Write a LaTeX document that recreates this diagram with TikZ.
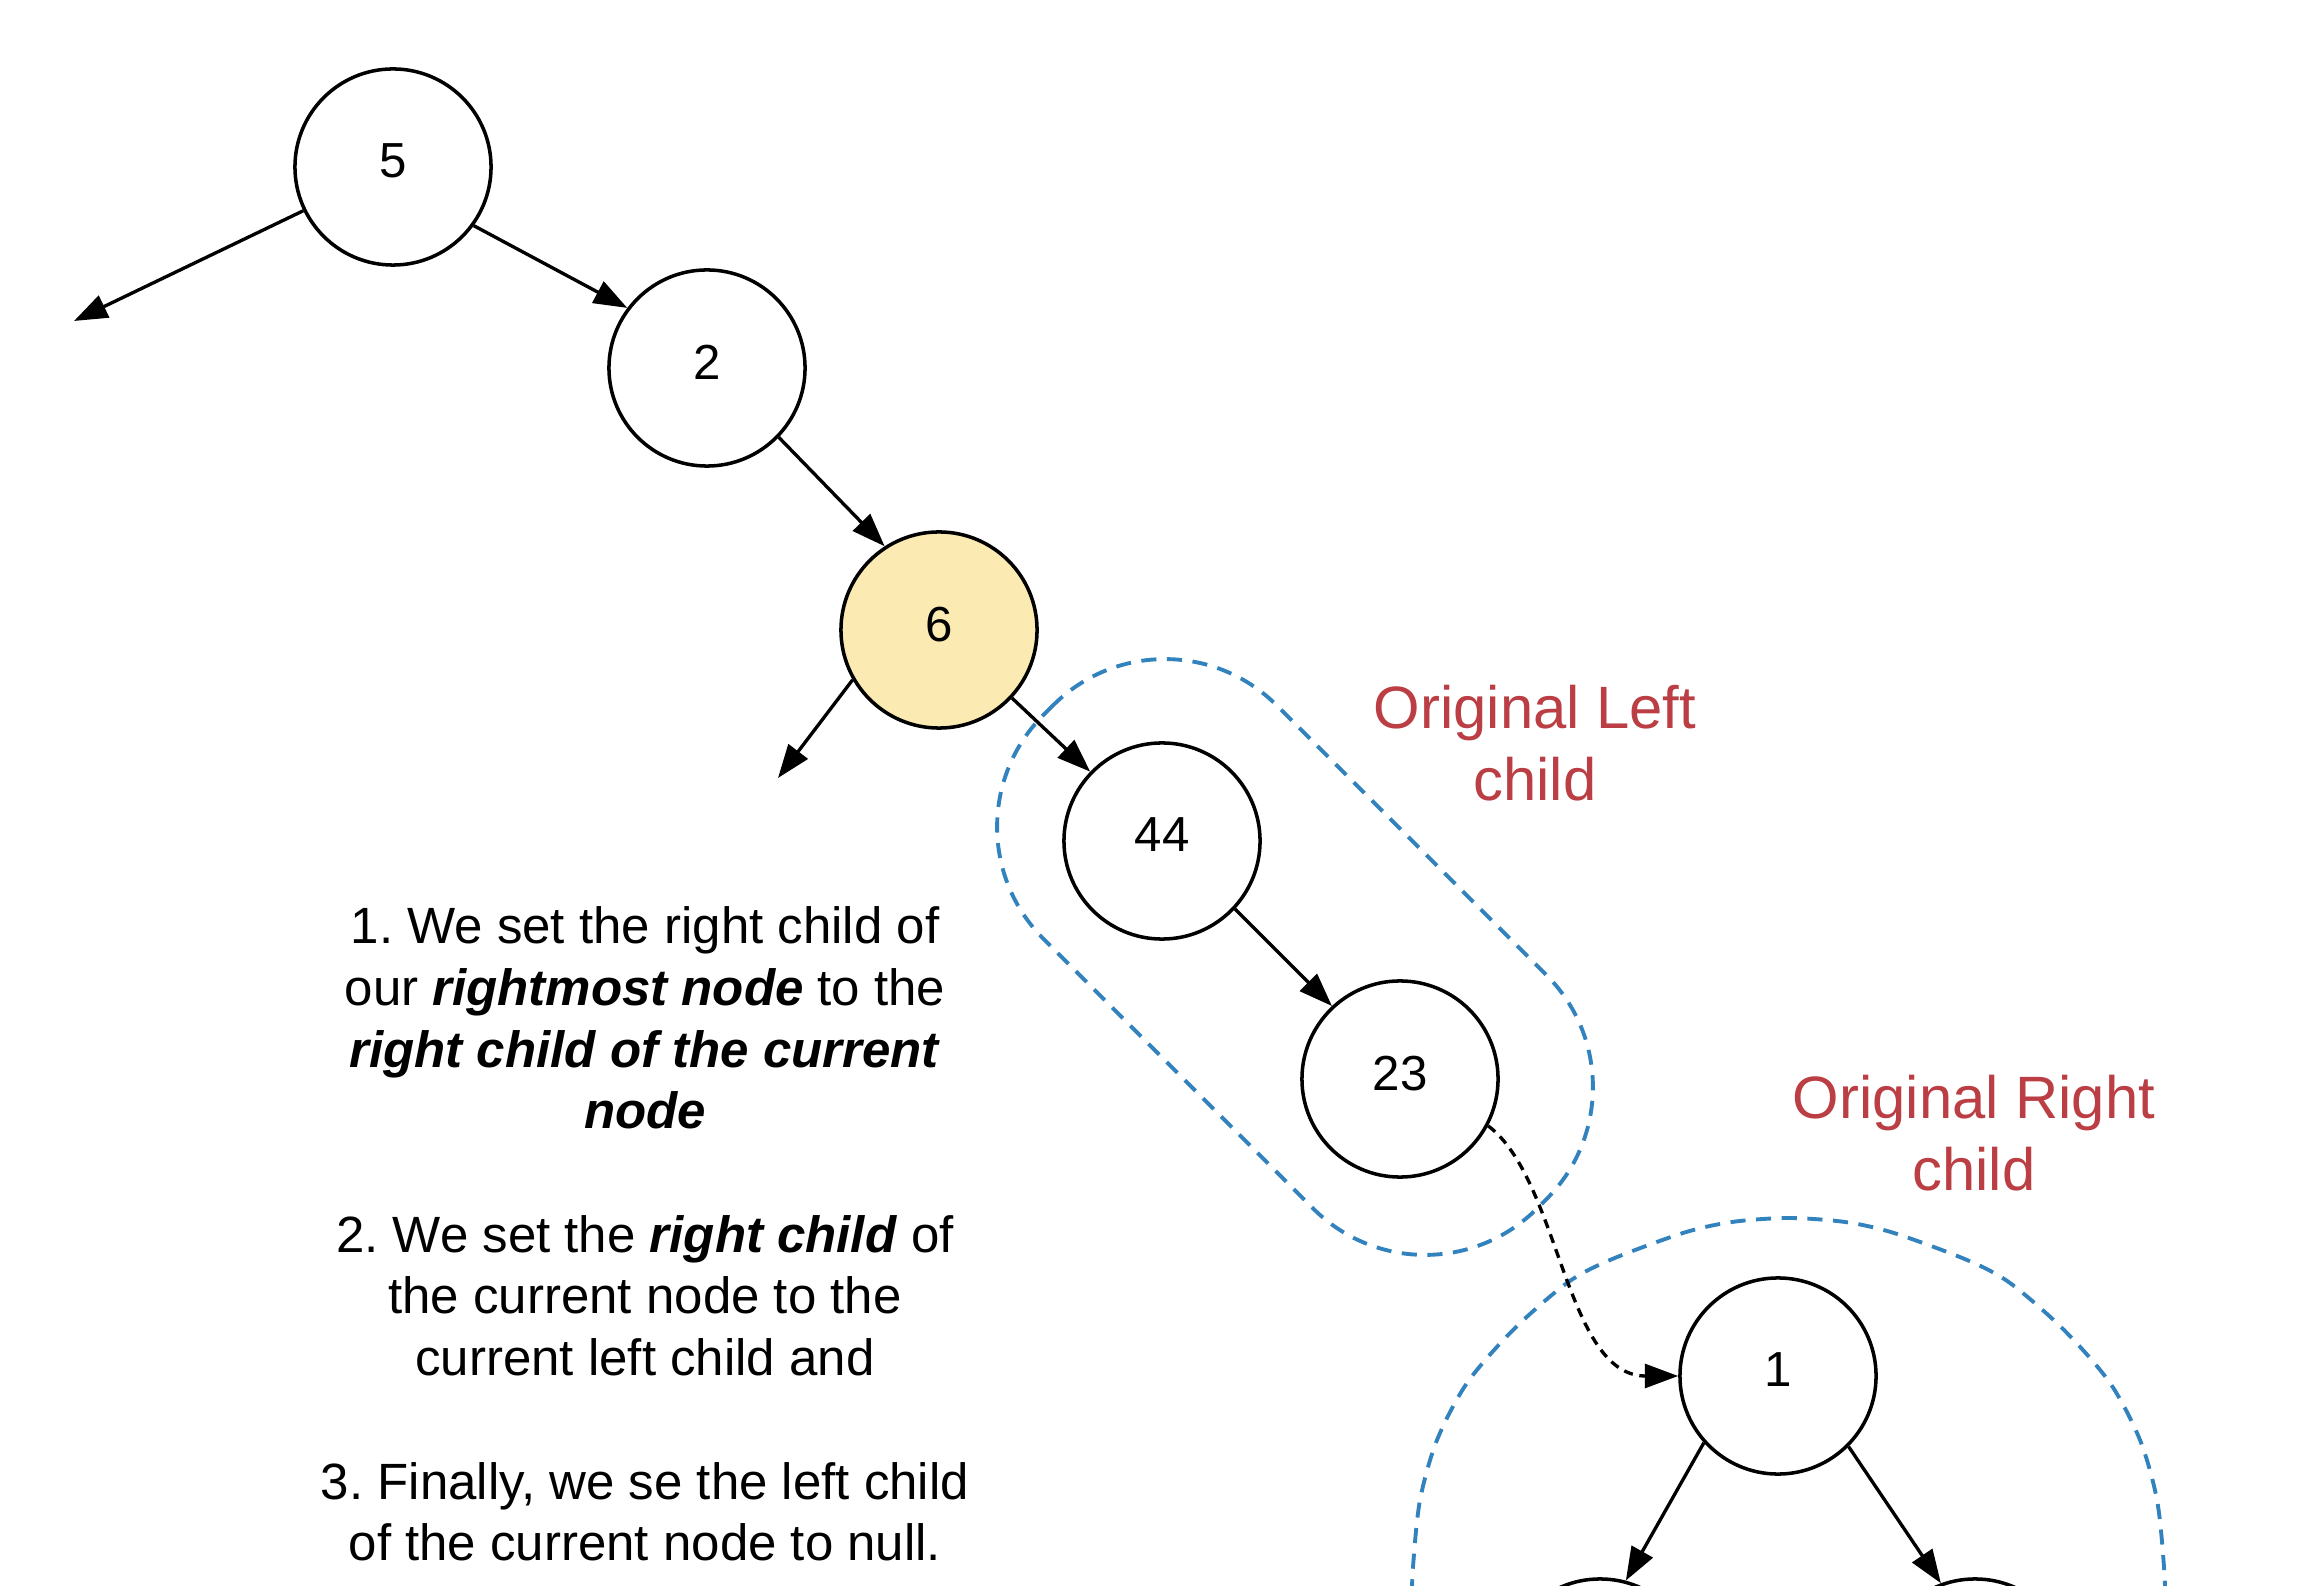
\documentclass[tikz,border=0pt]{standalone}
\usepackage{fontspec}
\setmainfont{Liberation Sans}
\usetikzlibrary{arrows.meta}
\frenchspacing
\definecolor{redlab}{RGB}{187,62,68}
\definecolor{blueline}{RGB}{50,130,190}
\definecolor{yellowfill}{RGB}{251,234,177}
\tikzset{
  treenode/.style={circle, draw=black, line width=1pt, minimum size=1.96cm, inner sep=0pt, fill=white,
    text depth=3.4pt, font=\fontsize{14pt}{16.8pt}\selectfont},
  arr/.style={-{Triangle[length=9.5pt,width=6.8pt]}, line width=0.95pt, black},
  dasharr/.style={-{Triangle[length=9.5pt,width=6.8pt]}, line width=0.95pt, black, dash pattern=on 2.6pt off 1.9pt},
  groupline/.style={draw=blueline, line width=1.1pt, dash pattern=on 4.3pt off 3pt},
  redlabel/.style={text=redlab, align=center, font=\fontsize{17pt}{20.65pt}\selectfont},
  bodytext/.style={align=center, font=\fontsize{14.5pt}{17.55pt}\selectfont}
}
\newcommand{\bit}[1]{\textbf{\textit{#1}}}
\begin{document}
\begin{tikzpicture}[x=0.01cm, y=-0.01cm]
\clip (0,0) rectangle (2324,1586);
\fill[white] (0,0) rectangle (2324,1586);

% dashed group outlines
\draw[groupline, rounded corners=45pt, rotate around={-45:(1295,957)}]
  (946,792) rectangle (1644,1122);
\draw[groupline] plot[smooth] coordinates {
  (1411,1620) (1413,1567) (1420,1500) (1437,1440) (1467,1383) (1513,1330)
  (1567,1283) (1610,1260) (1683,1233) (1732,1222) (1788,1218)
  (1845,1222) (1894,1233) (1967,1260) (2010,1283) (2064,1330)
  (2110,1383) (2140,1440) (2157,1500) (2164,1567) (2166,1620)};

% nodes
\node[treenode] (n5) at (393,167) {5};
\node[treenode] (n2) at (707,368) {2};
\node[treenode, fill=yellowfill] (n6) at (939,630) {6};
\node[treenode] (n44) at (1162,841) {44};
\node[treenode] (n23) at (1400,1079) {23};
\node[treenode] (n1) at (1778,1376) {1};
\node[treenode] (c1l) at (1600,1677) {};
\node[treenode] (c1r) at (1975,1677) {};

\coordinate (e5) at (74,321);
\coordinate (e6) at (778,778);

% connectors
\draw[arr] (n5.206.8) -- (e5);
\draw[arr] (n5.-36.3) -- (n2.143.1);
\draw[arr] (n2.-44.2) -- (n6.123.9);
\draw[arr] (n6.210.5) -- (e6);
\draw[arr] (n6.-43.6) -- (n44.136.6);
\draw[arr] (n44.-43.8) -- (n23.133);
\draw[dasharr] (n23.-28.6) .. controls (1560,1180) and (1565,1376) .. (n1.west);
\draw[arr] (n1.222) -- (c1l.75.4);
\draw[arr] (n1.315) -- (c1r.110.8);

% labels
\node[redlabel] (lblL) at (1535,743) {Original Left\\child};
\node[redlabel] (lblR) at (1974,1133) {Original Right\\child};

\node[bodytext] (txt) at (645,1234) {1. We set the right child of\\
our \bit{rightmost node} to the\\
\bit{right child of the current}\\
\bit{node}\\[17.55pt]
2. We set the \bit{right child} of\\
the current node to the\\
current left child and\\[17.55pt]
3. Finally, we se the left child\\
of the current node to null.};
\end{tikzpicture}
\end{document}
